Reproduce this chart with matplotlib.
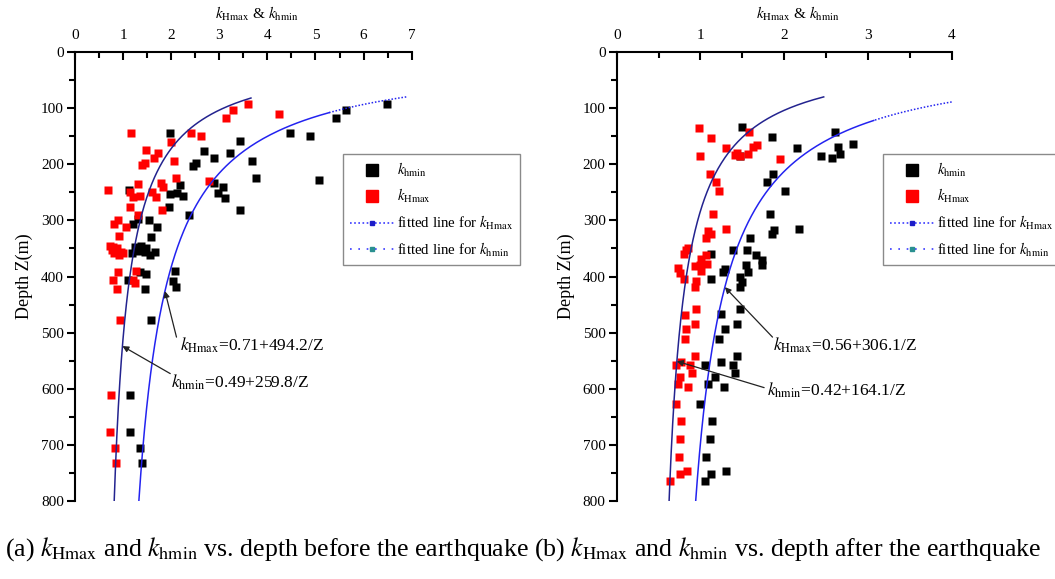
import numpy as np
import matplotlib
matplotlib.use("Agg")
import matplotlib.pyplot as plt
from matplotlib.lines import Line2D

plt.rcParams["font.family"] = ["Liberation Serif", "DejaVu Serif"]
plt.rcParams["mathtext.fontset"] = "stix"

# ---------------- data: (a) before the earthquake ----------------
before_hmin_k = [6.48, 5.64, 5.43, 4.48, 4.88, 1.97, 3.43, 2.69, 3.22, 2.88, 3.69, 2.51, 2.45,
                 3.77, 5.08, 2.90, 2.19, 3.08, 1.13, 2.97, 2.12, 1.97, 2.24, 3.12, 1.95, 3.43,
                 2.38, 1.31, 1.53, 1.21, 1.70, 1.58, 1.24, 1.38, 1.48, 1.31, 1.45, 1.66, 1.18,
                 1.55, 1.35, 1.47, 1.10, 1.45, 2.07, 2.04, 2.09, 1.59, 1.15, 1.15, 1.36, 1.40]
before_hmin_z = [93, 103, 118, 145, 149, 145, 159, 176, 180, 188, 194, 198, 203,
                 225, 228, 234, 237, 240, 246, 251, 252, 253, 257, 260, 277, 281,
                 291, 298, 299, 306, 312, 329, 347, 345, 350, 355, 357, 356, 359,
                 361, 392, 395, 407, 422, 391, 408, 418, 477, 612, 677, 705, 732]

before_hmax_k = [3.59, 3.28, 3.14, 4.24, 1.16, 2.42, 2.62, 1.99, 1.47, 1.73, 1.64, 2.06, 1.45,
                 1.40, 2.09, 2.78, 1.30, 1.78, 0.68, 1.14, 1.21, 1.35, 1.61, 1.69, 1.82, 1.15,
                 1.80, 1.31, 0.90, 0.81, 1.05, 0.92, 0.73, 0.80, 0.87, 0.95, 0.92, 0.81, 1.00,
                 0.76, 0.90, 0.79, 0.87, 1.26, 1.21, 1.24, 0.93, 0.74, 0.73, 0.84, 0.86]
before_hmax_z = [93, 103, 117, 110, 145, 145, 149, 160, 175, 180, 188, 194, 198,
                 201, 224, 229, 236, 233, 246, 249, 258, 257, 250, 259, 240, 276,
                 281, 290, 300, 306, 311, 328, 346, 348, 350, 356, 362, 359, 359,
                 352, 392, 407, 422, 391, 407, 412, 477, 612, 677, 705, 732]

# ---------------- data: (b) after the earthquake ----------------
after_hmin_k = [1.50, 1.85, 2.15, 2.61, 2.64, 2.67, 2.57, 2.44, 2.82, 1.47, 1.86, 1.79, 2.01,
                1.83, 1.88, 1.85, 2.18, 1.59, 1.39, 1.55, 1.66, 1.74, 1.74, 1.13, 1.29, 1.27,
                1.54, 1.57, 1.12, 1.47, 1.50, 1.47, 1.25, 1.47, 1.43, 1.29, 1.22, 1.05, 1.24,
                1.43, 1.39, 1.41, 1.17, 1.09, 1.28, 0.99, 1.14, 1.11, 1.07, 1.13, 1.05, 1.30]
after_hmin_z = [134, 152, 171, 142, 169, 182, 188, 185, 164, 186, 218, 231, 248,
                289, 317, 324, 316, 332, 352, 353, 362, 370, 380, 360, 386, 392,
                380, 392, 405, 401, 410, 419, 467, 458, 485, 494, 511, 557, 552,
                542, 558, 572, 579, 592, 597, 627, 658, 689, 721, 752, 764, 746]

after_hmax_k = [0.98, 1.13, 1.00, 1.30, 1.41, 1.47, 1.43, 1.57, 1.63, 1.67, 1.58, 1.95, 1.11,
                1.18, 1.22, 1.15, 1.09, 1.13, 1.07, 1.31, 0.83, 0.80, 0.85, 1.01, 1.07, 1.08,
                1.00, 1.01, 0.93, 0.73, 0.75, 0.80, 0.95, 0.93, 0.82, 0.95, 0.93, 0.83, 0.82,
                0.71, 0.77, 0.93, 0.87, 0.90, 0.75, 0.73, 0.85, 0.71, 0.77, 0.75, 0.74, 0.75,
                0.84, 0.63]
after_hmax_z = [136, 154, 185, 171, 183, 186, 180, 182, 169, 166, 142, 191, 218,
                231, 248, 289, 319, 325, 332, 316, 353, 360, 350, 368, 362, 378,
                380, 391, 381, 385, 394, 404, 408, 419, 468, 458, 485, 494, 511,
                557, 552, 542, 558, 572, 579, 592, 597, 627, 658, 689, 721, 752,
                746, 764]

# fitted relations k = a + b / Z
before_fit_hmax = (0.71, 494.2)
before_fit_hmin = (0.49, 259.8)
after_fit_hmax = (0.56, 306.1)
after_fit_hmin = (0.42, 164.1)

x_limits = [7, 4]
caption = (r"(a) $k_{\rm Hmax}$ and $k_{\rm hmin}$ vs. depth before the earthquake "
           r"(b) $k_{\rm Hmax}$ and $k_{\rm hmin}$ vs. depth after the earthquake")

NAVY = "#23238f"
BLUE = "#2323f0"


def fit(params, z):
    a, b = params
    return a + b / np.asarray(z, dtype=float)


def style_axes(ax, xmax):
    ax.set_xlim(0, xmax)
    ax.set_ylim(800, 0)
    ax.xaxis.tick_top()
    ax.spines["bottom"].set_visible(False)
    ax.spines["right"].set_visible(False)
    for s in ("left", "top"):
        ax.spines[s].set_linewidth(1.5)
    ax.set_xticks(np.arange(0, xmax + 0.01, 1))
    ax.set_xticks(np.arange(0.5, xmax, 1), minor=True)
    ax.set_yticks(np.arange(0, 801, 100))
    ax.set_yticks(np.arange(50, 800, 100), minor=True)
    ax.tick_params(axis="x", which="both", direction="in", top=True, bottom=False,
                   width=1.5, labelsize=11, pad=7)
    ax.tick_params(axis="x", which="major", length=6)
    ax.tick_params(axis="x", which="minor", length=4)
    ax.tick_params(axis="y", which="both", direction="out", width=1.5,
                   labelsize=11, pad=2)
    ax.tick_params(axis="y", which="major", length=6)
    ax.tick_params(axis="y", which="minor", length=4)
    ax.set_ylabel("Depth Z(m)", fontsize=13)
    ax.yaxis.set_label_coords(-0.126, 0.5)
    ax.text(0.54, 1.085, r"$k_{\rm Hmax}$ & $k_{\rm hmin}$", transform=ax.transAxes,
            ha="center", va="center", fontsize=11)


def draw_panel(ax, xmax, hmin_k, hmin_z, hmax_k, hmax_z, fit_hmax, fit_hmin,
               hmin_top, hmax_solid_top, hmax_top):
    style_axes(ax, xmax)
    ax.plot(hmin_k, hmin_z, "s", ms=5.6, color="black", mec="none", zorder=2)
    ax.plot(hmax_k, hmax_z, "s", ms=5.6, color="#ff0000", mec="none", zorder=2)

    z1 = np.linspace(hmin_top, 800, 300)
    ax.plot(fit(fit_hmin, z1), z1, color=NAVY, lw=1.1, zorder=3)
    z2 = np.linspace(hmax_solid_top, 800, 300)
    ax.plot(fit(fit_hmax, z2), z2, color=BLUE, lw=1.1, zorder=3)
    z3 = np.linspace(hmax_top, hmax_solid_top, 60)
    ax.plot(fit(fit_hmax, z3), z3, color=BLUE, lw=1.1, ls=(0, (1, 1.2)), zorder=3)


def label_fit(ax, name, params, head_z, tail, text_xy, fs=12.5):
    a, b = params
    ax.annotate("", xy=(fit(params, head_z), head_z), xytext=tail,
                arrowprops=dict(arrowstyle="-|>", color="#222222", lw=0.9,
                                mutation_scale=9, shrinkA=0, shrinkB=0), zorder=4)
    ax.text(text_xy[0], text_xy[1], rf"$k_{{\rm {name}}}$={a:g}+{b:g}/Z",
            ha="left", va="baseline", fontsize=fs)


def add_legend(fig, anchor):
    handles = [
        Line2D([], [], ls="none", marker="s", ms=9, color="black"),
        Line2D([], [], ls="none", marker="s", ms=9, color="#ff0000"),
        Line2D([], [], color="#3a3aff", ls=(0, (1, 1.5)), lw=1.2, marker="s", ms=3,
               mfc="#1c1cc8", mec="#1c1cc8"),
        Line2D([], [], color="#3a3aff", ls=(0, (1, 4)), lw=1.2, marker="s", ms=3,
               mfc="#2a9090", mec="#2a9090"),
    ]
    labels = [r"$k_{\rm hmin}$", r"$k_{\rm Hmax}$",
              r"fitted line for $k_{\rm Hmax}$", r"fitted line for $k_{\rm hmin}$"]
    leg = fig.legend(handles, labels, loc="upper left", bbox_to_anchor=anchor,
                     bbox_transform=fig.transFigure, numpoints=1, handlelength=3.0,
                     handletextpad=0.2, borderpad=0.45, labelspacing=0.57,
                     fontsize=10.7, frameon=True, fancybox=False, framealpha=1,
                     edgecolor="#8a8a8a", borderaxespad=0)
    leg.get_frame().set_linewidth(1.0)


fig = plt.figure(figsize=(10.55, 5.79), dpi=100)
ax_a = fig.add_axes([0.0711, 0.1347, 0.3191, 0.7755])
ax_b = fig.add_axes([0.5846, 0.1347, 0.3175, 0.7755])

draw_panel(ax_a, x_limits[0], before_hmin_k, before_hmin_z, before_hmax_k, before_hmax_z,
           before_fit_hmax, before_fit_hmin, 82, 108, 80)
draw_panel(ax_b, x_limits[1], after_hmin_k, after_hmin_z, after_hmax_k, after_hmax_z,
           after_fit_hmax, after_fit_hmin, 80, 122, 89)

label_fit(ax_a, "Hmax", before_fit_hmax, 426, (2.11, 508), (2.18, 532))
label_fit(ax_a, "hmin", before_fit_hmin, 524, (1.98, 573), (1.99, 598))
label_fit(ax_b, "Hmax", after_fit_hmax, 419, (1.86, 508), (1.87, 532))
label_fit(ax_b, "hmin", after_fit_hmin, 551, (1.76, 598), (1.80, 612))

add_legend(fig, (0.325, 0.734))
add_legend(fig, (0.837, 0.734))

fig.text(0.005, 0.041, caption, ha="left", va="baseline", fontsize=18.6)

fig.savefig("out.png", dpi=100)
